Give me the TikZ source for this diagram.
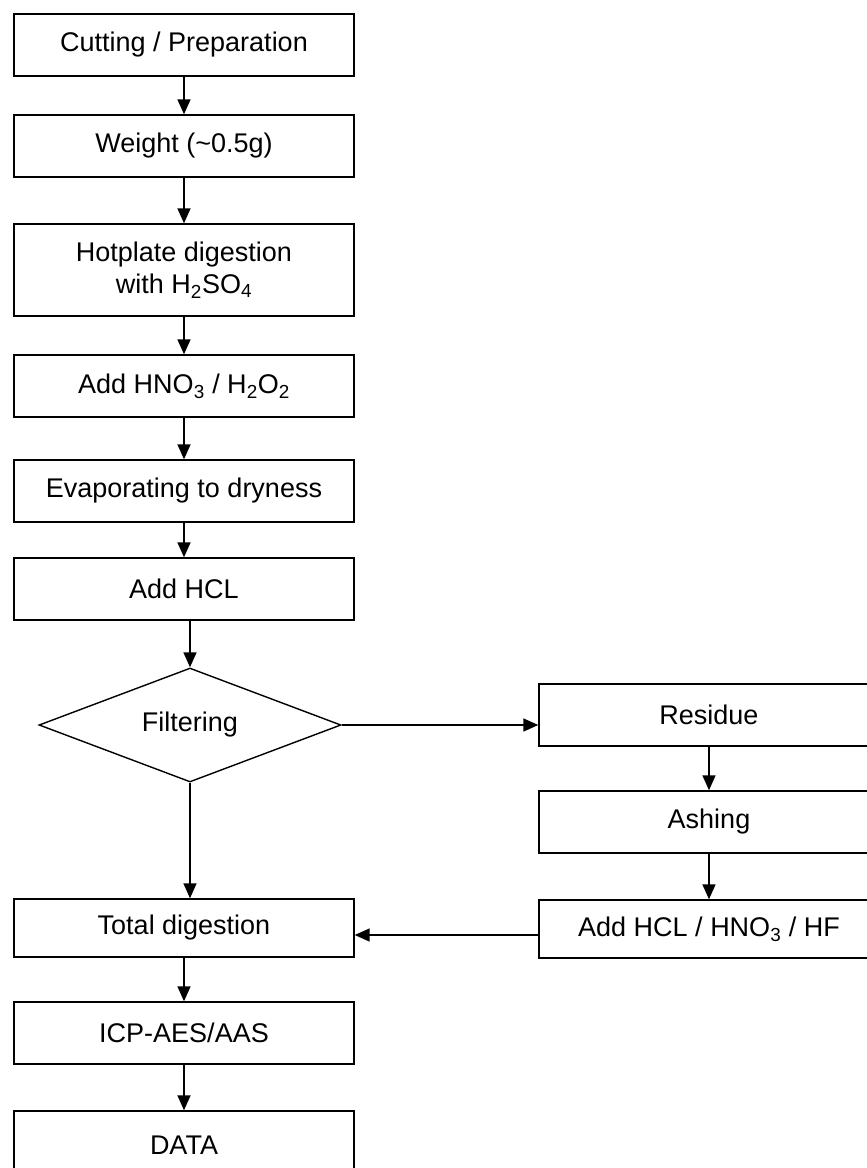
\documentclass[tikz,border=0pt]{standalone}
\usepackage{fontspec}
\setmainfont{Liberation Sans}
\usetikzlibrary{arrows.meta, shapes.geometric, positioning}

\tikzset{
  stepbox/.style={draw, line width=1.4pt, minimum width=340pt, minimum height=62pt,
    inner sep=0pt, align=center, font=\fontsize{27}{32}\selectfont},
  testbox/.style={draw, diamond, line width=1.4pt, minimum width=302pt, minimum height=114pt,
    aspect=2.6, inner sep=0pt, font=\fontsize{27}{32}\selectfont},
  flow/.style={line width=1.6pt, -{Triangle[width=13pt,length=15pt]}},
}

\begin{document}
\begin{tikzpicture}[x=1pt, y=-1pt]
    \useasboundingbox (0,0) rectangle (867,1168);

    % main column
    \node[stepbox] (cut) at (184,45) {Cutting / Preparation};
    \node[stepbox] (weigh) at (184,146) {Weight (\textasciitilde0.5g)};
    \node[stepbox, minimum height=92pt] (hot) at (184,270) {Hotplate digestion\\with H\textsubscript{2}SO\textsubscript{4}};
    \node[stepbox] (oxid) at (184,386) {Add HNO\textsubscript{3} / H\textsubscript{2}O\textsubscript{2}};
    \node[stepbox] (evap) at (184,491) {Evaporating to dryness};
    \node[stepbox] (hcl) at (184,589) {Add HCL};
    \node[testbox] (filt) at (190,725) {Filtering};
    \node[stepbox, minimum height=58pt] (total) at (184,928) {Total digestion};
    \node[stepbox] (icp) at (184,1033) {ICP-AES/AAS};
    \node[stepbox, minimum height=68pt] (data) at (184,1145) {DATA};

    % residue branch
    \node[stepbox] (res) at (709,715) {Residue};
    \node[stepbox] (ash) at (709,822) {Ashing};
    \node[stepbox, minimum height=58pt] (acid) at (709,929) {Add HCL / HNO\textsubscript{3} / HF};

    \draw[flow] (cut) -- (weigh);
    \draw[flow] (weigh) -- (hot);
    \draw[flow] (hot) -- (oxid);
    \draw[flow] (oxid) -- (evap);
    \draw[flow] (evap) -- (hcl);
    \draw[flow] (hcl.south -| filt.north) -- (filt.north);
    \draw[flow] (filt.south) -- (filt.south |- total.north);
    \draw[flow] (total) -- (icp);
    \draw[flow] (icp) -- (data);

    \draw[flow] (filt.east) -- (filt.east -| res.west);
    \draw[flow] (res) -- (ash);
    \draw[flow] (ash) -- (acid);
    \draw[flow] ([yshift=-7pt]total.east -| acid.west) -- ([yshift=-7pt]total.east);
\end{tikzpicture}
\end{document}
